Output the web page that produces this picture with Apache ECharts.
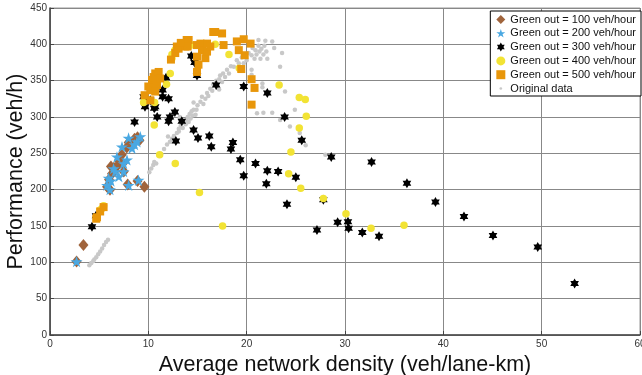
<!DOCTYPE html>
<html>
<head>
<meta charset="utf-8">
<title>Performance vs density</title>
<script src="https://cdn.jsdelivr.net/npm/echarts@6/dist/echarts.min.js"></script>
<style>
html,body{margin:0;padding:0;background:#fff;}
#main{width:642px;height:375px;}
</style>
</head>
<body>
<div id="main"></div>
<script>
// [density, performance] pairs
var green100 = [[2.7,101],[3.4,124],[9.6,204],[5.8,204],[6.1,200],[6.0,214],[6.3,222],[6.5,230],[6.6,226],[6.8,232],
    [7.0,240],[7.5,225],[7.3,248],[7.8,258],[8.0,265],[8.3,262],[8.6,270],[8.9,272],[9.1,268],[7.9,207],[8.9,212],[7.4,236],[6.2,232]];
var green200 = [[2.7,101],[5.8,206],[6.1,200],[5.96,216],[6.47,229],[6.64,225],[6.81,245],[7.49,225],[7.49,236],[7.83,241],
    [7.32,259],[8.34,257],[7.99,271],[8.85,266],[9.18,273],[8.0,206],[9.0,213],[6.2,212],[7.0,218],[8.6,262]];
var green300 = [[4.27,149],[4.68,164],[8.6,293],[9.52,328],[9.66,314],[9.69,323],[10.2,323],[10.6,312],[10.7,314],[10.9,300],
    [11.45,328],[11.45,337],[11.8,354],[12.06,325],[12.06,294],[12.2,300],[12.7,307],[12.8,267],[13.4,294],[14.37,384],
    [14.7,375],[14.95,357],[14.6,282],[15.05,271],[16.2,274],[16.4,259],[16.9,344],[19.7,342],[22.1,333],[23.86,300],
    [18.6,265],[18.4,256],[19.35,241],[20.9,236],[19.7,219],[22.1,226],[23.2,225],[22.0,208],[25.0,217],[25.6,268],
    [28.6,245],[32.7,238],[36.3,209],[24.1,180],[27.8,186],[27.15,144.5],[29.25,155],[30.3,156],[30.37,147],[31.76,141],
    [33.46,136],[39.2,183],[42.1,163],[45.05,137],[49.6,121],[53.35,71]];
var green400 = [[5.1,172],[5.45,178],[5.3,174],[9.52,320],[10.64,320],[10.6,289],[11.15,248],[12.74,236],[15.2,196],[11.85,345],
    [12.23,360],[12.4,381],[12.4,386],[12.7,392],[14.4,399],[16.8,400],[18.2,386],[19.25,367],[23.3,344],[25.35,327],
    [25.96,324],[26.06,301],[25.35,285],[24.5,252],[24.27,222],[25.5,202],[27.8,188],[30.1,167],[32.65,147],[36.0,151],[17.55,150]];
var green500 = [[4.7,160],[4.78,162],[5.1,170],[5.45,176],[9.62,330],[10.0,342],[10.2,323],[10.2,337],[10.37,346],[10.37,351],
    [10.54,337],[10.54,355],[10.7,360],[10.88,344],[11.05,362],[11.2,353],[10.7,335],[12.74,388],[12.9,397],[13.08,394],
    [13.76,397],[13.9,406],[14.1,406],[14.0,397],[14.95,399],[15.3,401],[15.46,392],[14.95,383],[15.1,372],[14.95,362],
    [15.8,381],[15.97,390],[15.97,401],[16.3,397],[16.6,417],[16.8,417],[17.5,415],[17.65,399],[19.0,404],[19.7,407],
    [20.4,401],[19.2,392],[19.8,385],[19.45,366],[20.5,352],[20.8,340],[20.5,317],[12.3,379],[13.3,402]];
var original = [[4.0,96],[4.2,99],[4.4,102],[4.5,104],[4.7,107],[4.9,111],[5.1,115],[5.3,119],[5.5,124],[5.7,128],[5.9,131],
    [10.1,224],[10.3,229],[10.5,234],[10.6,238],[10.8,236],[11.3,249],[11.6,256],[11.9,262],[12.2,266],[12.4,270],
    [12.6,274],[12.7,268],[12.9,278],[13.1,280],[13.1,284],[13.3,288],[13.5,285],[13.6,292],[13.8,290],[13.9,296],
    [14.0,300],[14.1,293],[14.2,304],[14.3,298],[14.4,308],[14.5,302],[14.6,310],[14.8,303],[14.9,310],[15.0,316],
    [15.3,321],[15.45,328],[15.6,318],[15.8,325],[15.97,333],[16.1,329],[16.3,339],[16.5,336],[16.6,345],[16.8,344],
    [16.9,350],[17.0,340],[17.2,352],[17.3,357],[17.5,348],[17.6,360],[17.8,355],[18.0,365],[18.2,360],[18.4,370],
    [18.7,369],[19.0,378],[19.2,374],[19.5,382],[19.7,374],[20.0,378],[20.2,388],[20.5,385],[20.6,395],[20.8,380],
    [20.9,392],[21.0,386],[21.2,398],[21.3,390],[21.4,380],[21.5,394],[21.7,386],[21.8,398],[22.0,390],[22.1,380],
    [21.2,406],[21.9,405],[22.6,404],[23.6,388],[23.4,369],[22.8,395],[20.5,365],[20.5,358],[21.6,346],[21.6,341],
    [22.2,333],[23.9,335],[21.05,305],[21.7,306],[22.6,306],[23.4,296],[24.4,287],[26.0,261],[25.4,278],[24.9,310],
    [28.0,248],[17.2,338],[14.6,320],[13.2,300],[12.0,273]];
var names = ['Green out = 100 veh/hour','Green out = 200 veh/hour','Green out = 300 veh/hour',
    'Green out = 400 veh/hour','Green out = 500 veh/hour','Original data'];

var pentagram = 'path://M0,-10 L2.25,-3.09 L9.51,-3.09 L3.63,1.18 L5.88,8.09 L0,3.82 L-5.88,8.09 L-3.63,1.18 L-9.51,-3.09 L-2.25,-3.09 Z';
var hexagram = 'path://M0,-10 L2.89,-5 L8.66,-5 L5.77,0 L8.66,5 L2.89,5 L0,10 L-2.89,5 L-8.66,5 L-5.77,0 L-8.66,-5 L-2.89,-5 Z';
var smallDot = 'path://M-10,-10 L-10,-10 M10,10 L10,10 M-3,0 A3,3 0 1,1 3,0 A3,3 0 1,1 -3,0 Z';

var font = 'Liberation Sans, Arial, sans-serif';
var chart = echarts.init(document.getElementById('main'));

var option = {
    animation: false,
    textStyle: {fontFamily: font},
    grid: {
        left: 50, right: 2, top: 8, bottom: 40,
        outerBoundsMode: 'none', containLabel: false,
        show: true, borderColor: '#999', borderWidth: 1
    },
    legend: {
        orient: 'vertical',
        right: 1, top: 11,
        padding: [3, 5, 2, 6],
        itemWidth: 9, itemHeight: 9, itemGap: 2.8,
        borderColor: '#000', borderWidth: 1,
        backgroundColor: '#fff',
        textStyle: {fontSize: 11, lineHeight: 11, color: '#111', fontFamily: font},
        data: [
            {name: names[0]}, {name: names[1]}, {name: names[2]},
            {name: names[3]}, {name: names[4]}, {name: names[5], icon: smallDot}
        ]
    },
    xAxis: {
        type: 'value', min: 0, max: 60, interval: 10,
        name: 'Average network density (veh/lane-km)',
        nameLocation: 'middle', nameGap: 19, nameMoveOverlap: false,
        nameTextStyle: {fontSize: 21.5, color: '#111', fontFamily: font},
        axisLine: {lineStyle: {color: '#444', width: 1.5}},
        axisTick: {inside: true, length: 4, lineStyle: {color: '#444'}},
        axisLabel: {fontSize: 10, color: '#333', margin: 4},
        splitLine: {lineStyle: {color: '#888', width: 1}}
    },
    yAxis: {
        type: 'value', min: 0, max: 450, interval: 50,
        name: 'Performance (veh/h)',
        nameLocation: 'middle', nameGap: 23, nameMoveOverlap: false,
        nameTextStyle: {fontSize: 21.5, color: '#111', fontFamily: font},
        axisLine: {show: true, lineStyle: {color: '#444', width: 1.5}},
        axisTick: {show: true, inside: true, length: 4, lineStyle: {color: '#444'}},
        axisLabel: {fontSize: 10, color: '#333', margin: 3},
        splitLine: {lineStyle: {color: '#888', width: 1}}
    },
    series: [
        {name: names[0], type: 'scatter', data: green100, symbol: 'diamond', symbolSize: [10, 12],
            itemStyle: {color: '#a0643c', opacity: 1}, z: 3},
        {name: names[1], type: 'scatter', data: green200, symbol: pentagram, symbolSize: 12, symbolKeepAspect: true,
            itemStyle: {color: '#4aa8e2', opacity: 1}, z: 4},
        {name: names[2], type: 'scatter', data: green300, symbol: hexagram, symbolSize: 10, symbolKeepAspect: true,
            itemStyle: {color: '#000', opacity: 1}, z: 5},
        {name: names[3], type: 'scatter', data: green400, symbol: 'circle', symbolSize: 7.5,
            itemStyle: {color: '#f2e334', opacity: 1}, z: 6},
        {name: names[4], type: 'scatter', data: green500, symbol: 'rect', symbolSize: 8,
            itemStyle: {color: '#e8960a', opacity: 1}, z: 7},
        {name: names[5], type: 'scatter', data: original, symbol: 'circle', symbolSize: 4.5,
            itemStyle: {color: '#c8c8c8', opacity: 1}, z: 2}
    ]
};
chart.setOption(option);
</script>
</body>
</html>
